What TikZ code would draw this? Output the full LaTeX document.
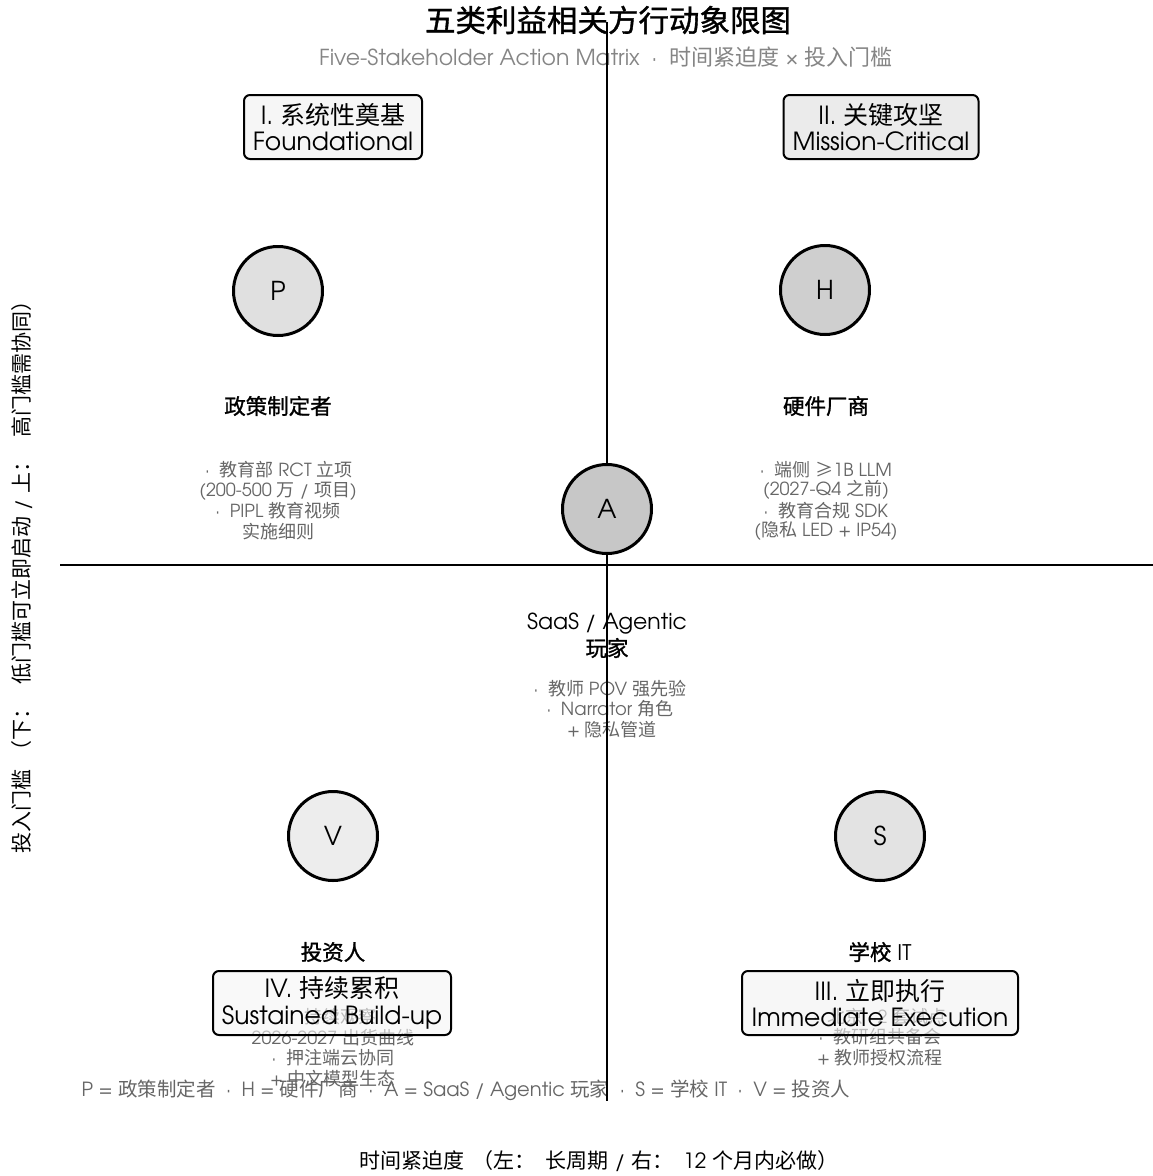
\documentclass[tikz,border=0pt]{standalone}
\usepackage{fontspec}
\setmainfont{texgyreadventor}[Extension=.otf,UprightFont=*-regular,BoldFont=*-regular,ItalicFont=*-italic,BoldItalicFont=*-italic]
\newfontfamily\cjkfont{Noto Sans CJK SC}[BoldFont=Noto Sans CJK SC,BoldFeatures={FakeBold=1.2}]
\makeatletter
\XeTeXinterchartokenstate=1
\newXeTeXintercharclass\CJKcls
\count@="2E80
\loop \XeTeXcharclass\count@=\CJKcls \ifnum\count@<"9FFF \advance\count@ 1 \repeat
\count@="FF00
\loop \XeTeXcharclass\count@=\CJKcls \ifnum\count@<"FFEF \advance\count@ 1 \repeat
\XeTeXcharclass"2265=\CJKcls
\XeTeXinterchartoks 0 \CJKcls = {\cjkfont}
\XeTeXinterchartoks 4095 \CJKcls = {\cjkfont}
\XeTeXinterchartoks \CJKcls 0 = {\rmfamily}
\XeTeXinterchartoks \CJKcls 4095 = {\rmfamily}
\makeatother
\definecolor{bullgray}{HTML}{666666}
\definecolor{subgray}{HTML}{858585}
\tikzset{
  bull/.style={inner sep=0pt, text=bullgray, font=\fontsize{18}{20}\selectfont},
  who/.style={inner sep=0pt, font=\fontsize{21.5}{23}\selectfont\bfseries},
  qbox/.style={draw, line width=2pt, rounded corners=6pt, minimum height=64pt, inner sep=3pt, align=center, font=\fontsize{25}{26.5}\selectfont, fill opacity=0.6, text opacity=1},
  letter/.style={circle, draw, line width=3pt, minimum size=89pt, inner sep=0pt, font=\fontsize{26}{28}\selectfont},
  axis/.style={line width=1.6pt}
}
\begin{document}
\begin{tikzpicture}[x=1pt,y=-1pt]
\fill[white] (0,0) rectangle (1153,1176);
\useasboundingbox (0,0) rectangle (1153,1176);
% titles
\node[inner sep=0pt, font=\fontsize{30.5}{32}\selectfont\bfseries] (title) at (608,20) {五类利益相关方行动象限图};
\node[inner sep=0pt, text=subgray, font=\fontsize{22}{24}\selectfont] (subtitle) at (606,57) {Five-Stakeholder Action Matrix\ \ ·\ \ 时间紧迫度 × 投入门槛};
% names
\node[who] (nP) at (278,406) {政策制定者};
\node[who] (nH) at (826,406) {硬件厂商};
\node[inner sep=0pt, font=\fontsize{22}{24}\selectfont] (nA1) at (607,624) {SaaS / Agentic};
\node[who] (nA2) at (607,648) {玩家};
\node[who] (nV) at (333,952) {投资人};
\node[who] (nS) at (880,952) {学校 IT};
% bullets P
\node[bull] (p1) at (279,470) {·\ \ 教育部 RCT 立项};
\node[bull] (p2) at (278,491) {(200-500 万 / 项目)};
\node[bull] (p3) at (278,511) {·\ \ PIPL 教育视频};
\node[bull] (p4) at (278,532) {实施细则};
% bullets H
\node[bull] (h1) at (826,470) {·\ \ 端侧 ≥1B LLM};
\node[bull] (h2) at (826,490) {(2027-Q4 之前)};
\node[bull] (h3) at (826,511) {·\ \ 教育合规 SDK};
\node[bull] (h4) at (826,531) {(隐私 LED + IP54)};
% bullets A
\node[bull] (a1) at (610,689) {·\ \ 教师 POV 强先验};
\node[bull] (a2) at (610,709) {·\ \ Narrator 角色};
\node[bull] (a3) at (612,730) {+ 隐私管道};
% bullets V
\node[bull] (v1) at (333,1017) {·\ \ 持续观察};
\node[bull] (v2) at (333,1038) {2026-2027 出货曲线};
\node[bull] (v3) at (333,1058) {·\ \ 押注端云协同};
\node[bull] (v4) at (333,1079) {+ 中文模型生态};
% bullets S
\node[bull] (s1) at (880,1017) {·\ \ 北京 · 2 套试点};
\node[bull] (s2) at (880,1037) {·\ \ 教研组共备会};
\node[bull] (s3) at (880,1058) {+ 教师授权流程};
% legend and axis labels
\node[bull, font=\fontsize{19.5}{21}\selectfont] (legend) at (466,1090) {P = 政策制定者 \ · \ H = 硬件厂商 \ · \ A = SaaS / Agentic 玩家 \ · \ S = 学校 IT \ · \ V = 投资人};
\node[inner sep=0pt, font=\fontsize{21}{23}\selectfont] (xlab) at (599,1161) {时间紧迫度\hspace{8pt}（左：\hspace{10pt}长周期 / 右：\hspace{10pt}12 个月内必做）};
\node[inner sep=0pt, rotate=90, font=\fontsize{21}{23}\selectfont] (ylab) at (22,572) {投入门槛\hspace{8pt}（下：\hspace{14pt}低门槛可立即启动 / 上：\hspace{14pt}高门槛需协同）};
% quadrant boxes
\node[qbox, fill=black!6, minimum width=178pt] (qI) at (333,127) {I. 系统性奠基\\Foundational};
\node[qbox, fill=black!13, minimum width=195pt] (qII) at (881,127) {II. 关键攻坚\\Mission-Critical};
\node[qbox, fill=black!5, minimum width=276pt] (qIII) at (880,1003) {III. 立即执行\\Immediate Execution};
\node[qbox, fill=black!4, minimum width=238pt] (qIV) at (332,1003) {IV. 持续累积\\Sustained Build-up};
% axes
\coordinate (vtop) at (607,22);
\coordinate (vbot) at (607,1101);
\coordinate (hl) at (60,565);
\coordinate (hr) at (1153,565);
\draw[axis] (vtop) -- (vbot);
\draw[axis] (hl) -- (hr);
% circles
\node[letter, fill=black!12] (P) at (278,291) {P};
\node[letter, fill=black!19] (H) at (825,290) {H};
\node[letter, fill=black!22] (A) at (607,509) {A};
\node[letter, fill=black!7] (V) at (333,836) {V};
\node[letter, fill=black!11] (S) at (880,836) {S};
\end{tikzpicture}
\end{document}
